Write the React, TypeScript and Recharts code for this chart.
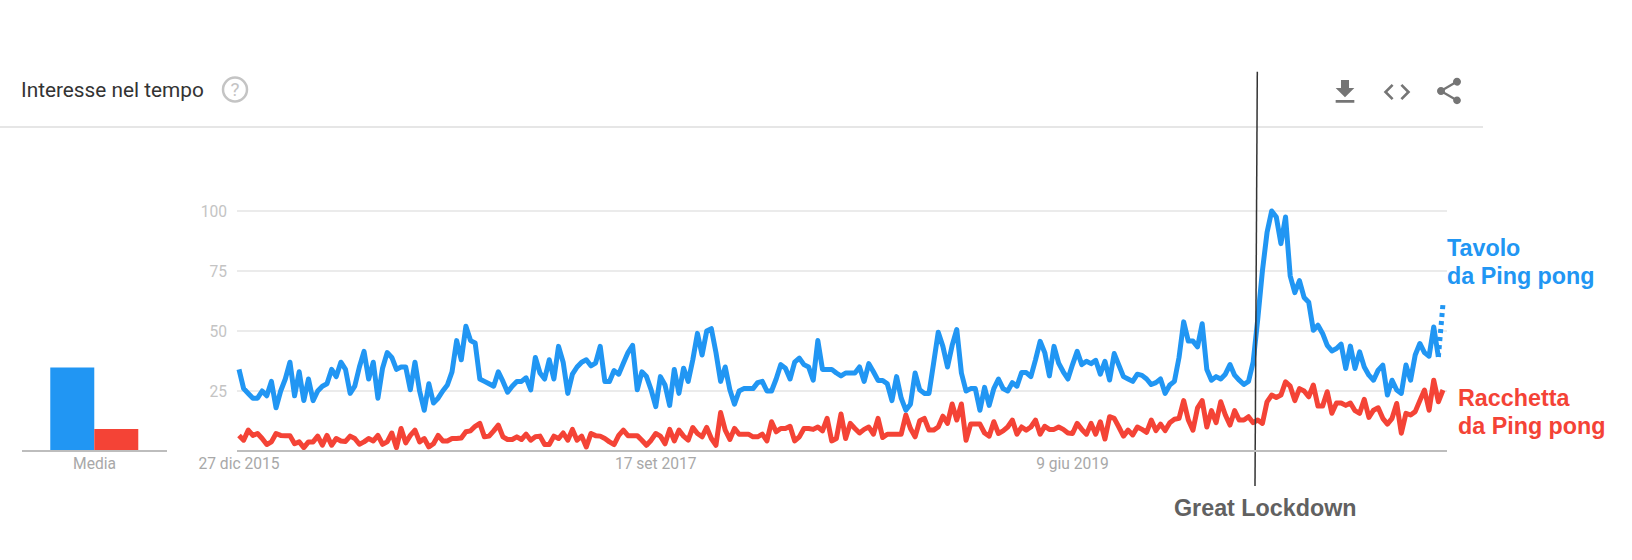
import React from "react";
import { LineChart, Line, BarChart, Bar, XAxis, YAxis, CartesianGrid, ReferenceLine } from "recharts";

const tavolo = [
34,26,24,22,22,25,23,29,18,25,
30,37,23,33,21,30,21,25,27,28,
34,31,37,34,24,27,35,41.5,30,37,
22,34.5,41,39,34,35,35,25.5,37,25,
17,28,20,22,25,27.5,33,46,38,52,
46,45,30,29,28,27,33,29,24.5,27,
29,29,30.5,25.5,39,32.5,30,38,30,43.6,
37,24,32,35,37,38,35.5,36.6,43.6,29,
29,33.5,32,36.6,41,44,25.5,33,31,25.5,
18.5,31,27.5,19,34,24,34.5,29,38,49,
40,50,51,41,29,35,25.5,19.5,25,26,
26,26,28.5,29,25,25,30,36,34.5,30,
37,38.7,36,35,29.5,46,34,34,34,32.5,
31.3,32.5,32.5,32.5,35,29,36.4,33,29.4,29.4,
28,21,31,22,17,19.5,32.5,25.5,24,24,
36.6,49.5,43.6,35,44,50.6,32.5,25,26,26,
17,26.5,19,26,30,26,25,28.5,27,32.7,
32.7,31,38,45.7,41,31.3,43.6,36.6,33,30,
36,41.5,36,37.4,36.4,37.8,32,37.4,29.6,40.6,
35.8,31,30,29,32,31.5,30,27.7,28.5,30,
24,27.5,29,39,53.8,45.8,45.8,43.4,53,34,
29.5,31,30,32,36,31.6,29.5,27.7,29,37,
55,75,91,100,97.5,86.4,97.5,73,66,71,
64,62,50.3,52.4,49,44,41.7,42.7,44.5,34.4,
43.7,34.4,41.3,35,31.6,29.5,33.7,35.8,23.3,29.5,
25.4,24,35.8,29.5,40,44.8,41,39.5,51.7,39.2,
61.4,
];

const racchetta = [
6.5,4.5,8.7,6.5,7.3,5.2,2.7,3.8,7.3,6.5,
6.4,6.4,3,3.8,1.4,3.8,3.8,6.2,2.4,6.5,
2.4,5.2,4.2,4,6.2,5.2,2.8,3.8,5.2,4.2,
6.5,2.8,3.8,7.5,1.4,9.4,3.4,6.5,8.7,3.8,
5.2,1.7,3,6.5,4.2,4.2,5.2,5.2,5.4,8,
8.4,10.3,11.5,5.9,6.2,8.4,10.8,5.9,4.8,4.8,
5.9,4.8,7,4.5,5.9,6.2,2.7,2.7,6.2,5.2,
7.5,4.5,9,4.5,6.2,1.7,7.3,6.4,6.2,5.2,
3.8,2.7,6.5,8.7,6.4,6.4,6.4,4.5,2.4,4.5,
7.3,6.2,3,9,4.2,8.7,6.2,4.5,9.8,7.3,
5.9,9.8,5.2,2.4,16,8.7,4.8,9.4,7,7,
7,5.9,5.9,7,4.2,12.2,8,9.4,9.4,10.3,
4.2,5.9,9.4,9.4,9,10,8.4,13.6,4.2,5.2,
15.4,5.2,11.5,9.4,7.5,9,10,7,13.6,5.6,
7,7,7,7,15,9.4,5.9,12.6,13.6,8.7,
8.7,10,14.5,11.5,19.6,12.9,19.6,4.5,11.2,11.2,
11.2,7.5,6.2,12.2,7.3,8.4,10,12.9,7,10,
8.7,10,12.9,7,10.3,9,9,10,9,7.5,
7.3,11.5,9,7,11.5,7,12.2,5,14.3,13.6,
10,6.2,8.7,6.7,10,9,7.8,12.9,8.5,11.2,
8.5,11.8,13.2,13.6,21,12.9,8.7,18,21,10,
16.8,11.8,20.5,15,10.8,16.8,12.9,12.9,14.3,11.8,
12.9,11.5,20.5,23.3,22.3,23.3,28.8,27,21,26,
25,22.6,27.5,18.7,18.7,24.7,15.7,20,20,19,
20,16.8,15.7,21.5,14,17,18,13.6,11.2,13.6,
19.8,7.4,15.7,15,16.4,21,25.4,17,29.5,20.5,
25.4,
];

const dateTicks = [0, 90, 180];
const dateLabels = ["27 dic 2015", "17 set 2017", "9 giu 2019"];
const valueTicks = [25, 50, 75, 100];
const averageRows = [{ name: "Media", tavolo: 34.8, racchetta: 9.2 }];

const BLUE = "#2196f3";
const RED = "#f44336";
const LAST = tavolo.length - 1;

const rows = tavolo.map((v, i) => ({
  i,
  tavolo: i < LAST ? v : null,
  parziale: i >= LAST - 1 ? v : null,
  racchetta: racchetta[i],
}));

const abs = (left: number, top: number, extra: React.CSSProperties = {}): React.CSSProperties => ({
  position: "absolute",
  left,
  top,
  whiteSpace: "nowrap",
  ...extra,
});

const labelFont: React.CSSProperties = {
  fontFamily: "'Liberation Sans'",
  fontWeight: 700,
  fontSize: 23.3,
  lineHeight: "28px",
};

const Icon = ({ left, top, d }: { left: number; top: number; d: string }) => (
  <svg style={{ position: "absolute", left, top }} width={32} height={32} viewBox="0 0 24 24">
    <path d={d} fill="#757575" />
  </svg>
);

export default function App() {
  return (
    <div style={{ position: "absolute", left: 0, top: 0, width: 1632, height: 560, background: "#fff", overflow: "hidden" }}>
      <div style={abs(21, 76, { fontFamily: "Roboto", fontSize: 20.8, lineHeight: "28px", color: "#333" })}>Interesse nel tempo</div>
      <svg style={{ position: "absolute", left: 220, top: 75 }} width={30} height={30} viewBox="0 0 30 30">
        <circle cx={15} cy={14.5} r={12} fill="none" stroke="#c4c4c4" strokeWidth={2.5} />
        <text x={15} y={21} textAnchor="middle" fontFamily="Roboto" fontSize={19} fill="#c4c4c4">?</text>
      </svg>
      <div style={{ position: "absolute", left: 0, top: 126, width: 1483, height: 2, background: "#e6e6e6" }} />
      <Icon left={1329} top={76} d="M19 9h-4V3H9v6H5l7 7 7-7zM5 18v2h14v-2H5z" />
      <Icon left={1381} top={76} d="M9.4 16.6L4.8 12l4.6-4.6L8 6l-6 6 6 6 1.4-1.4zm5.2 0l4.6-4.6-4.6-4.6L16 6l6 6-6 6-1.4-1.4z" />
      <Icon left={1433} top={75} d="M18 16.08c-.76 0-1.44.3-1.96.77L8.91 12.7c.05-.23.09-.46.09-.7s-.04-.47-.09-.7l7.05-4.11c.54.5 1.25.81 2.04.81 1.66 0 3-1.34 3-3s-1.34-3-3-3-3 1.34-3 3c0 .24.04.47.09.7L8.04 9.81C7.5 9.31 6.79 9 6 9c-1.66 0-3 1.34-3 3s1.34 3 3 3c.79 0 1.5-.31 2.04-.81l7.12 4.16c-.05.21-.08.43-.08.65 0 1.61 1.31 2.92 2.92 2.92 1.61 0 2.92-1.31 2.92-2.92s-1.31-2.92-2.92-2.92z" />

      <div style={{ position: "absolute", left: 0, top: 0 }}>
        <BarChart width={200} height={560} data={averageRows} margin={{ top: 211, bottom: 79, left: 22, right: 33 }} barCategoryGap="19.5%" barGap={0}>
          <XAxis dataKey="name" height={30} tickLine={false} axisLine={{ stroke: "#bdbdbd", strokeWidth: 2 }} tick={{ fill: "#a8a8a8", fontSize: 15.6, fontFamily: "Roboto" }} tickMargin={1} />
          <YAxis hide domain={[0, 100]} />
          <Bar dataKey="tavolo" fill={BLUE} isAnimationActive={false} />
          <Bar dataKey="racchetta" fill={RED} isAnimationActive={false} />
        </BarChart>
      </div>

      <div style={{ position: "absolute", left: 0, top: 0 }}>
        <LineChart width={1632} height={560} data={rows} margin={{ top: 211, bottom: 79, left: 187, right: 185 }}>
          <CartesianGrid horizontal vertical={false} stroke="#e4e4e4" strokeWidth={1.5} />
          <XAxis
            dataKey="i"
            type="number"
            height={30}
            domain={[0, LAST]}
            padding={{ left: 2, right: 4 }}
            ticks={dateTicks}
            tickFormatter={(v: number) => dateLabels[dateTicks.indexOf(v)]}
            tickLine={false}
            axisLine={{ stroke: "#bdbdbd", strokeWidth: 2 }}
            tick={{ fill: "#a8a8a8", fontSize: 15.6, fontFamily: "Roboto" }}
            tickMargin={1}
            interval={0}
          />
          <YAxis
            width={50}
            domain={[0, 100]}
            ticks={valueTicks}
            tickLine={false}
            axisLine={false}
            tick={{ fill: "#c4c4c4", fontSize: 15.6, fontFamily: "Roboto" }}
            tickMargin={4}
          />
          <Line dataKey="racchetta" stroke={RED} strokeWidth={5} dot={false} isAnimationActive={false} strokeLinejoin="round" />
          <Line dataKey="tavolo" stroke={BLUE} strokeWidth={5} dot={false} isAnimationActive={false} strokeLinejoin="round" />
          <Line dataKey="parziale" stroke={BLUE} strokeWidth={5} strokeDasharray="4 4" dot={false} isAnimationActive={false} />
          <ReferenceLine
            ifOverflow="visible"
            segment={[{ x: 219.9, y: 158 }, { x: 219.4, y: -14.6 }]}
            stroke="#333"
            strokeWidth={1.5}
          />
        </LineChart>
      </div>

      <div style={abs(1447, 234, { ...labelFont, color: BLUE })}>Tavolo<br />da Ping pong</div>
      <div style={abs(1458, 384, { ...labelFont, color: RED })}>Racchetta<br />da Ping pong</div>
      <div style={abs(1174, 494, { ...labelFont, color: "#616161" })}>Great Lockdown</div>
    </div>
  );
}
